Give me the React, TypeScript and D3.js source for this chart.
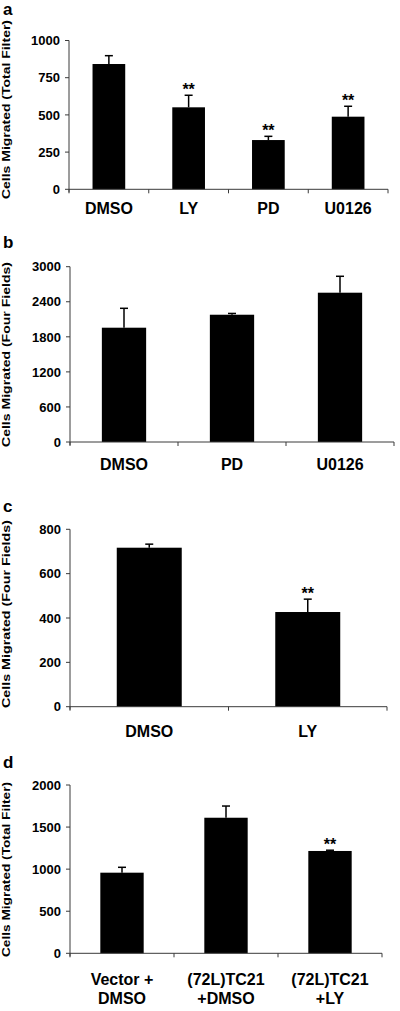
import React from "react";
import * as d3 from "d3";

// ---- Data ----
const panelACategories = ["DMSO", "LY", "PD", "U0126"];
const panelAMeans = [842, 551, 331, 488];
const panelAErrors = [56, 81, 25, 70];
const panelASig = [false, true, true, true];
const panelATicks = [0, 250, 500, 750, 1000];

const panelBCategories = ["DMSO", "PD", "U0126"];
const panelBMeans = [1956, 2178, 2555];
const panelBErrors = [332, 22, 281];
const panelBSig = [false, false, false];
const panelBTicks = [0, 600, 1200, 1800, 2400, 3000];

const panelCCategories = ["DMSO", "LY"];
const panelCMeans = [717, 427];
const panelCErrors = [16, 58];
const panelCSig = [false, true];
const panelCTicks = [0, 200, 400, 600, 800];

const panelDCategories = [["Vector +", "DMSO"], ["(72L)TC21", "+DMSO"], ["(72L)TC21", "+LY"]];
const panelDMeans = [958, 1611, 1216];
const panelDErrors = [64, 139, 9];
const panelDSig = [false, false, true];
const panelDTicks = [0, 500, 1000, 1500, 2000];

const FONT = "'Liberation Sans', Arial, Helvetica, sans-serif";

type PanelProps = {
  letter: string;
  yLabel: string;
  categories: (string | string[])[];
  means: number[];
  errors: number[];
  sig: boolean[];
  ticks: number[];
  top: number;
  bottom: number;
  x0: number;
  x1: number;
  letterY: number;
  labelY: number;
  yLabelCenter: number;
  yLabelLength: number;
  barFrac: number;
};

function Panel(p: PanelProps) {
  const yMax = p.ticks[p.ticks.length - 1];
  const y = d3.scaleLinear().domain([0, yMax]).range([p.bottom, p.top]);
  const idx = p.categories.map((_, i) => String(i));
  const x = d3.scaleBand().domain(idx).range([p.x0, p.x1]).padding(0);
  const bw = x.bandwidth() * p.barFrac;
  const axisColor = "#3a3a3a";
  return (
    <g fontFamily={FONT} fontWeight="bold">
      <text x={3} y={p.letterY} fontSize={17} fill="#000">{p.letter}</text>
      <text
        transform={`translate(9.5,${p.yLabelCenter}) rotate(-90)`}
        textAnchor="middle"
        fontSize={11.5}
        textLength={p.yLabelLength}
        lengthAdjust="spacingAndGlyphs"
        fill="#000"
      >
        {p.yLabel}
      </text>
      {/* y axis */}
      <line x1={p.x0} x2={p.x0} y1={p.top} y2={p.bottom + 3} stroke={axisColor} strokeWidth={1} />
      {p.ticks.map((t) => (
        <g key={t}>
          <line x1={p.x0 - 4} x2={p.x0} y1={y(t)} y2={y(t)} stroke={axisColor} strokeWidth={1} />
          <text x={p.x0 - 9} y={y(t)} dy="0.36em" textAnchor="end" fontSize={13} fill="#000">
            {t}
          </text>
        </g>
      ))}
      {/* bars */}
      {p.means.map((m, i) => {
        const cx = (x(String(i)) as number) + x.bandwidth() / 2;
        const errTop = y(m + p.errors[i]);
        return (
          <g key={i}>
            <rect x={cx - bw / 2} y={y(m)} width={bw} height={p.bottom - y(m)} fill="#000" />
            <line x1={cx} x2={cx} y1={y(m)} y2={errTop} stroke="#000" strokeWidth={1.5} />
            <line x1={cx - 4} x2={cx + 4} y1={errTop} y2={errTop} stroke="#000" strokeWidth={1.5} />
            {p.sig[i] && (
              <text x={cx} y={errTop - 0.5} textAnchor="middle" fontSize={16} fill="#000">
                **
              </text>
            )}
          </g>
        );
      })}
      {/* x axis */}
      <line x1={p.x0} x2={p.x1} y1={p.bottom} y2={p.bottom} stroke={axisColor} strokeWidth={1} />
      {idx.concat([String(idx.length)]).map((_, i) => {
        const bx = p.x0 + i * x.step();
        return <line key={i} x1={bx} x2={bx} y1={p.bottom} y2={p.bottom + 4} stroke={axisColor} strokeWidth={1} />;
      })}
      {p.categories.map((c, i) => {
        const cx = (x(String(i)) as number) + x.bandwidth() / 2;
        const lines = Array.isArray(c) ? c : [c];
        return (
          <text key={i} x={cx} y={p.labelY} textAnchor="middle" fontSize={16} fill="#000">
            {lines.map((l, j) => (
              <tspan key={j} x={cx} dy={j === 0 ? 0 : 18.5}>
                {l}
              </tspan>
            ))}
          </text>
        );
      })}
    </g>
  );
}

export default function App() {
  return (
    <div style={{ position: "absolute", left: 0, top: 0, background: "#fff" }}>
      <svg width={400} height={1011} style={{ display: "block", background: "#fff" }}>
        <Panel
          letter="a"
          yLabel="Cells Migrated (Total Filter)"
          categories={panelACategories}
          means={panelAMeans}
          errors={panelAErrors}
          sig={panelASig}
          ticks={panelATicks}
          top={40.5}
          bottom={189.3}
          x0={69}
          x1={388}
          letterY={15}
          labelY={214}
          yLabelCenter={109.5}
          yLabelLength={179}
          barFrac={0.41}
        />
        <Panel
          letter="b"
          yLabel="Cells Migrated (Four Fields)"
          categories={panelBCategories}
          means={panelBMeans}
          errors={panelBErrors}
          sig={panelBSig}
          ticks={panelBTicks}
          top={266.7}
          bottom={442}
          x0={70}
          x1={394}
          letterY={248}
          labelY={470}
          yLabelCenter={354.5}
          yLabelLength={185}
          barFrac={0.41}
        />
        <Panel
          letter="c"
          yLabel="Cells Migrated (Four Fields)"
          categories={panelCCategories}
          means={panelCMeans}
          errors={panelCErrors}
          sig={panelCSig}
          ticks={panelCTicks}
          top={529.3}
          bottom={706.7}
          x0={70}
          x1={387}
          letterY={512}
          labelY={737}
          yLabelCenter={614}
          yLabelLength={188}
          barFrac={0.41}
        />
        <Panel
          letter="d"
          yLabel="Cells Migrated (Total Filter)"
          categories={panelDCategories}
          means={panelDMeans}
          errors={panelDErrors}
          sig={panelDSig}
          ticks={panelDTicks}
          top={785}
          bottom={953.3}
          x0={70}
          x1={382}
          letterY={768}
          labelY={985}
          yLabelCenter={869.5}
          yLabelLength={175}
          barFrac={0.417}
        />
      </svg>
    </div>
  );
}
